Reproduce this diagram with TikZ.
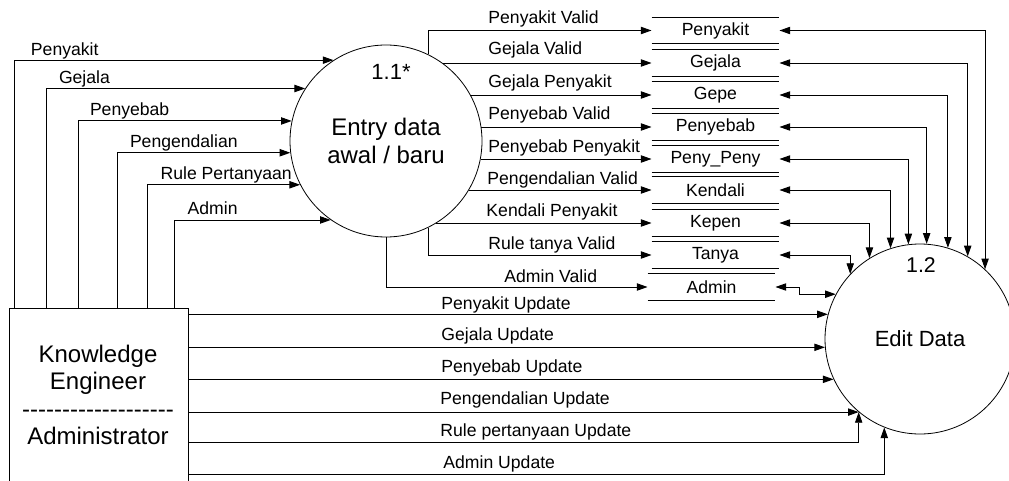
\documentclass[tikz,border=0pt]{standalone}
\usepackage{fontspec}
\setmainfont{Liberation Sans}[Ligatures=TeXOff]
\usetikzlibrary{calc,arrows.meta}

\begin{document}
\begin{tikzpicture}[x=0.75pt,y=-0.75pt,line width=0.7pt,
	flow/.style={-{Triangle[length=8pt,width=5.5pt]}},
	twoway/.style={{Triangle[length=8pt,width=5.5pt]}-{Triangle[length=8pt,width=5.5pt]}},
	lbl/.style={font=\fontsize{13.2}{15}\selectfont, inner sep=0pt, anchor=base west},
	process/.style={circle, draw, line width=0.6pt, inner sep=0pt, align=center},
	store/.style={minimum width=95.25pt, minimum height=19.5pt, inner sep=0pt, font=\fontsize{13.2}{15}\selectfont},
	entity/.style={draw, minimum width=134.25pt, minimum height=135pt, inner sep=0pt}]

		\useasboundingbox (0,0) rectangle (1009,481);
		\clip (0,0) rectangle (1009,481);

		% Processes
		\node[process, minimum size=144pt, font=\fontsize{18}{20.5}\selectfont] (entry) at (386,141) {Entry data\\awal / baru};
		\node[font=\fontsize{16.5}{18}\selectfont] (entryId) at (391,72) {1.1*};
		\node[process, minimum size=142.5pt, font=\fontsize{16.5}{18}\selectfont] (edit) at (920,339) {Edit Data};
		\node[font=\fontsize{16}{18}\selectfont] (editId) at (921,265) {1.2};

		% Knowledge Engineer / Administrator
		\node[entity] (ke) at (98.5,398) {};
		\node[font=\fontsize{18}{20.5}\selectfont, align=center] (keText) at (98,395)
			{Knowledge\\Engineer\\-------------------\\Administrator};

		% Data stores
		\node[store] (sPenyakit) at (715.5,30.5) {Penyakit};
		\node[store] (sGejala) at (715.5,63) {Gejala};
		\node[store] (sGepe) at (715.5,95) {Gepe};
		\node[store] (sPenyebab) at (715.5,127) {Penyebab};
		\node[store] (sPenyPeny) at (715.5,159) {Peny\_Peny};
		\node[store] (sKendali) at (715.5,190) {Kendali};
		\node[store] (sKepen) at (715.5,223) {Kepen};
		\node[store] (sTanya) at (715.5,255) {Tanya};
		\node[store] (sAdmin) at (711.5,287) {Admin};
		\foreach \s in {sPenyakit,sGejala,sGepe,sPenyebab,sPenyPeny,sKendali,sKepen,sTanya,sAdmin}
			\draw (\s.north west) -- (\s.north east) (\s.south west) -- (\s.south east);

		% Entry inputs
		\draw[flow] ($(ke.north west)+(6,0)$) |- node[lbl, pos=0.5, xshift=12pt, yshift=3.75pt] (lPenyakit) {Penyakit} (entry.123);
		\draw[flow] ($(ke.north west)+(38,0)$) |- node[lbl, pos=0.5, xshift=9pt, yshift=3.75pt] (lGejala) {Gejala} (entry.147);
		\draw[flow] ($(ke.north west)+(70,0)$) |- node[lbl, pos=0.5, xshift=8.25pt, yshift=3.75pt] (lPenyebab) {Penyebab} (entry.168);
		\draw[flow] ($(ke.north west)+(109,0)$) |- node[lbl, pos=0.5, xshift=9pt, yshift=3.75pt] (lPengendalian) {Pengendalian} (entry.187);
		\draw[flow] ($(ke.north west)+(139,0)$) |- node[lbl, pos=0.5, xshift=9.5pt, yshift=3.75pt] (lRule) {Rule Pertanyaan} (entry.207);
		\draw[flow] ($(ke.north west)+(166,0)$) |- node[lbl, pos=0.5, xshift=9.5pt, yshift=3.75pt] (lAdmin) {Admin} (entry.235);

		% Entry outputs
		\draw[flow] (entry.64) |- (sPenyakit.west);
		\draw[flow] (entry.54 |- sGejala.west) -- (sGejala.west);
		\draw[flow] (entry.29 |- sGepe.west) -- (sGepe.west);
		\draw[flow] (entry.8 |- sPenyebab.west) -- (sPenyebab.west);
		\draw[flow] (entry.-11 |- sPenyPeny.west) -- (sPenyPeny.west);
		\draw[flow] (entry.-31 |- sKendali.west) -- (sKendali.west);
		\draw[flow] (entry.-59 |- sKepen.west) -- (sKepen.west);
		\draw[flow] (entry.-64) |- (sTanya.west);
		\draw[flow] (entry.south) |- (sAdmin.west);

		\node[lbl] (lPenyakitValid) at (488,24) {Penyakit Valid};
		\node[lbl] (lGejalaValid) at (488,55) {Gejala Valid};
		\node[lbl] (lGejalaPenyakit) at (488,88) {Gejala Penyakit};
		\node[lbl] (lPenyebabValid) at (488,120) {Penyebab Valid};
		\node[lbl] (lPenyebabPenyakit) at (488,152) {Penyebab Penyakit};
		\node[lbl] (lPengendalianValid) at (487,184) {Pengendalian Valid};
		\node[lbl] (lKendaliPenyakit) at (486,216) {Kendali Penyakit};
		\node[lbl] (lRuleValid) at (488,249) {Rule tanya Valid};
		\node[lbl] (lAdminValid) at (504,282) {Admin Valid};

		% Stores to Edit Data
		\draw[twoway] (sPenyakit.east) -| (edit.47);
		\draw[twoway] (sGejala.east) -| (edit.60);
		\draw[twoway] (sGepe.east) -| (edit.73);
		\draw[twoway] (sPenyebab.east) -| (edit.86);
		\draw[twoway] (sPenyPeny.east) -| (edit.97);
		\draw[twoway] (sKendali.east) -| (edit.108);
		\draw[twoway] (sKepen.east) -| (edit.122);
		\draw[twoway] (sTanya.east) -| (edit.137);
		\draw[twoway] (sAdmin.east) -- ++(24,0) |- (edit.152);

		% Updates
		\coordinate (u5) at ($(ke.north east)+(0,135)$);
		\coordinate (u6) at ($(ke.north east)+(0,167)$);
		\draw[flow] (ke.east |- edit.165) -- (edit.165);
		\draw[flow] (ke.east |- edit.185) -- (edit.185);
		\draw[flow] (ke.east |- edit.205) -- (edit.205);
		\draw[flow] (ke.east |- edit.230) -- (edit.230);
		\draw[flow] (u5) -| (edit.230);
		\draw[flow] (u6) -| (edit.248);

		\node[lbl] (lPenyakitUpdate) at (441,309) {Penyakit Update};
		\node[lbl] (lGejalaUpdate) at (441,340) {Gejala Update};
		\node[lbl] (lPenyebabUpdate) at (441,372) {Penyebab Update};
		\node[lbl] (lPengendalianUpdate) at (440,404) {Pengendalian Update};
		\node[lbl] (lRuleUpdate) at (440,436) {Rule pertanyaan Update};
		\node[lbl] (lAdminUpdate) at (443,468) {Admin Update};

	\end{tikzpicture}
\end{document}
